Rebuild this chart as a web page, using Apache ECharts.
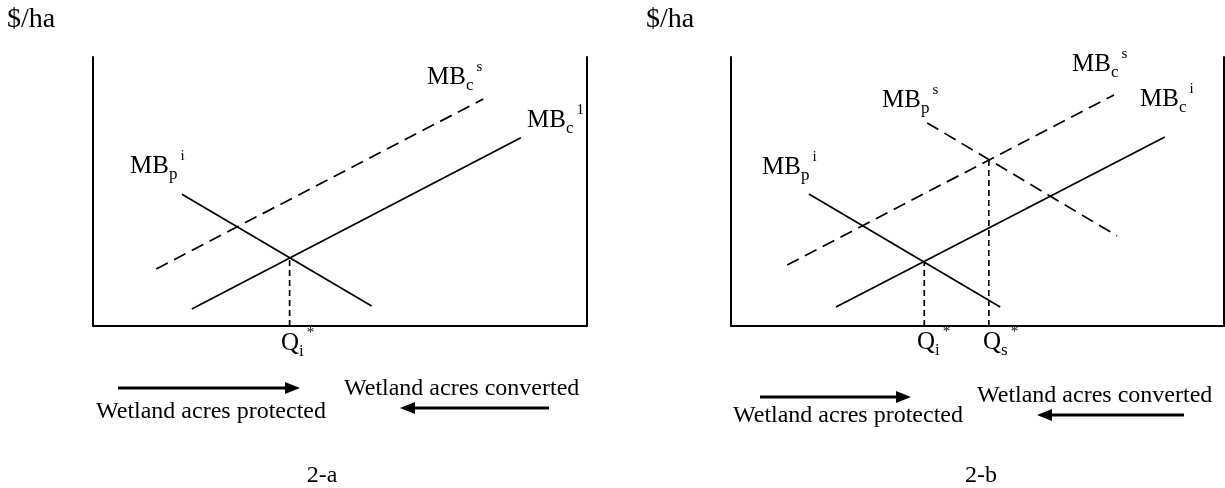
<!DOCTYPE html>
<html>
<head>
<meta charset="utf-8">
<script src="https://cdn.jsdelivr.net/npm/echarts@6/dist/echarts.min.js"></script>
<style>
html, body { margin: 0; padding: 0; background: #fff; }
#main { width: 1225px; height: 488px; }
</style>
</head>
<body>
<div id="main"></div>
<script>
// axis units run 0-100 on both axes of each panel
// panel 2-a
var aMBpI = [[18, 49], [56.4, 7.4]];
var aMBcI = [[20, 6.3], [86.6, 70]];
var aMBcS = [[12.8, 21.2], [79, 84.4]];
var aQi = [[39.8, 0], [39.8, 25.3]];
// panel 2-b
var bMBpI = [[15.8, 49.1], [54.6, 7.1]];
var bMBcI = [[21.3, 7.1], [88, 70.3]];
var bMBcS = [[11.4, 22.7], [77.7, 85.9]];
var bMBpS = [[39.8, 75.5], [78.3, 33.5]];
var bQi = [[39.2, 0], [39.2, 24]];
var bQs = [[52.3, 0], [52.3, 61.8]];
var panelNames = ['2-a', '2-b'];
var yUnit = '$/ha';
var protectedText = 'Wetland acres protected';
var convertedText = 'Wetland acres converted';

var F = "'Liberation Serif', 'Times New Roman', serif";
var myChart = echarts.init(document.getElementById('main'));

// one straight segment on a panel
function seg (data, panel, dash) {
  return {
    type: 'line',
    xAxisIndex: panel,
    yAxisIndex: panel * 2,
    data: data,
    symbol: 'none',
    silent: true,
    lineStyle: { color: '#000', width: 1.7, type: dash || 'solid' }
  }
}

function xAx (panel) {
  return {
    type: 'value', gridIndex: panel, min: 0, max: 100,
    axisLine: { show: true, onZero: false, lineStyle: { color: '#000', width: 2 } },
    axisTick: { show: false }, axisLabel: { show: false }, splitLine: { show: false }
  }
}
function yAx (panel, pos) {
  return {
    type: 'value', gridIndex: panel, min: 0, max: 100, position: pos,
    axisLine: { show: true, onZero: false, lineStyle: { color: '#000', width: 2 } },
    axisTick: { show: false }, axisLabel: { show: false }, splitLine: { show: false }
  }
}

// label like MB with subscript and superscript; (x, yc) = left edge, caps centre
function mb (x, yc, base, sub, sup) {
  return {
    type: 'text', x: x, y: yc - 17, silent: true,
    style: {
      text: '{m|' + base + '}{b|' + sub + '}{t|' + sup + '}',
      verticalAlign: 'top',
      rich: {
        m: { fontFamily: F, fontSize: 25, lineHeight: 34, fill: '#000' },
        b: { fontFamily: F, fontSize: 17, lineHeight: 17, verticalAlign: 'bottom', fill: '#000' },
        t: { fontFamily: F, fontSize: 15, lineHeight: 19, verticalAlign: 'top', padding: [0, 0, 0, 3], fill: '#000' }
      }
    }
  }
}
function txt (x, y, s, size, align) {
  return {
    type: 'text', x: x, y: y, silent: true,
    style: { text: s, fontFamily: F, fontSize: size, fill: '#000', align: align || 'left', verticalAlign: 'middle' }
  }
}
function arrow (x1, x2, y) {
  var dir = x2 > x1 ? 1 : -1
  return [
    { type: 'line', silent: true, shape: { x1: x1, y1: y, x2: x2 - dir * 12, y2: y }, style: { stroke: '#000', lineWidth: 3 } },
    { type: 'polygon', silent: true, shape: { points: [[x2, y], [x2 - dir * 15, y - 6], [x2 - dir * 15, y + 6]] }, style: { fill: '#000' } }
  ]
}

var graphics = [
  txt(7, 20, yUnit, 28),
  txt(646, 20, yUnit, 28),
  mb(130, 166, 'MB', 'p', 'i'),
  mb(427, 77, 'MB', 'c', 's'),
  mb(527, 120, 'MB', 'c', '1'),
  mb(281, 343, 'Q', 'i', '*'),
  mb(762, 167, 'MB', 'p', 'i'),
  mb(882, 100, 'MB', 'p', 's'),
  mb(1072, 64, 'MB', 'c', 's'),
  mb(1140, 99, 'MB', 'c', 'i'),
  mb(917, 342, 'Q', 'i', '*'),
  mb(983, 342, 'Q', 's', '*'),
  txt(96, 412, protectedText, 24),
  txt(344, 389, convertedText, 24),
  txt(733, 416, protectedText, 24),
  txt(977, 396, convertedText, 24),
  txt(322, 476, panelNames[0], 24, 'center'),
  txt(981, 476, panelNames[1], 24, 'center')
]
graphics = graphics.concat(arrow(118, 300, 388), arrow(549, 400, 408), arrow(760, 911, 397), arrow(1184, 1037, 415))

myChart.setOption({
  animation: false,
  grid: [
    { left: 93, top: 57, width: 494, height: 269 },
    { left: 731, top: 57, width: 493, height: 269 }
  ],
  xAxis: [xAx(0), xAx(1)],
  yAxis: [yAx(0, 'left'), yAx(0, 'right'), yAx(1, 'left'), yAx(1, 'right')],
  series: [
    seg(aMBpI, 0),
    seg(aMBcI, 0),
    seg(aMBcS, 0, [13, 7]),
    seg(aQi, 0, [6, 4]),
    seg(bMBpI, 1),
    seg(bMBcI, 1),
    seg(bMBcS, 1, [13, 7]),
    seg(bMBpS, 1, [13, 7]),
    seg(bQi, 1, [6, 4]),
    seg(bQs, 1, [6, 4])
  ],
  graphic: graphics
})
window.addEventListener('resize', function () {
  myChart.resize()
})
</script>
</body>
</html>
